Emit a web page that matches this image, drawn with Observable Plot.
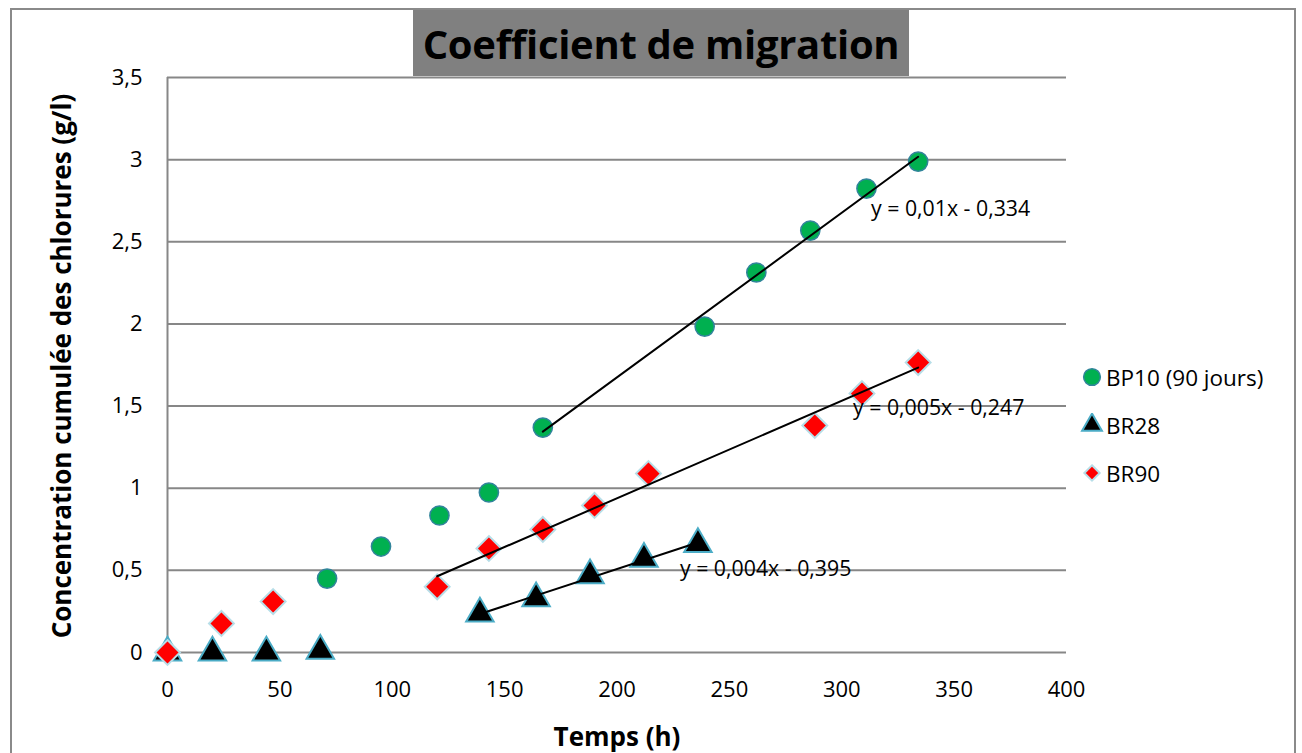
<!DOCTYPE html>
<html>
<head>
<meta charset="utf-8">
<script src="https://cdn.jsdelivr.net/npm/d3@7"></script>
<script src="https://cdn.jsdelivr.net/npm/@observablehq/plot@0.6"></script>
<style>
  html, body { margin: 0; padding: 0; background: #fff; overflow: hidden; }
  #wrap { position: relative; width: 1302px; height: 753px; font-family: "Open Sans", sans-serif; }
  #frame { position: absolute; left: 10px; top: 8px; width: 1286px; height: 800px; border: 2px solid #8a8a8a; box-sizing: border-box; }
  #title { position: absolute; left: 413px; top: 10px; width: 496px; height: 66px; background: #808080; color: #000;
           font-weight: 700; font-size: 40px; display: flex; align-items: center; justify-content: center; letter-spacing: -0.3px; }
  #ylabel { position: absolute; left: 61px; top: 366px; transform: translate(-50%, -50%) rotate(-90deg); white-space: nowrap;
            font-weight: 700; font-size: 26px; }
  #xlabel { position: absolute; left: 617px; top: 736px; transform: translate(-50%, -50%); white-space: nowrap;
            font-weight: 700; font-size: 26px; }
  #legend { position: absolute; left: 1080px; top: 353px; font-size: 22.5px; }
  .item { display: flex; align-items: center; height: 48px; }
  .item svg { width: 24px; height: 24px; margin-right: 2px; }
  #chart { position: absolute; left: 0; top: 0; }
</style>
</head>
<body>
<div id="wrap">
  <div id="frame"></div>
  <div id="chart"></div>
  <div id="title">Coefficient de migration</div>
  <div id="ylabel">Concentration cumulée des chlorures (g/l)</div>
  <div id="xlabel">Temps (h)</div>
  <div id="legend"></div>
</div>
<script>
// ---- Data ----
const xTicks = [0, 50, 100, 150, 200, 250, 300, 350, 400];
const yTicks = [0, 0.5, 1, 1.5, 2, 2.5, 3, 3.5];

const seriesNames = ["BP10 (90 jours)", "BR28", "BR90"];

const bp10X = [71, 95, 121, 143, 167, 239, 262, 286, 311, 334];
const bp10Y = [0.45, 0.645, 0.834, 0.974, 1.369, 1.984, 2.313, 2.568, 2.824, 2.988];

const br28X = [0, 20, 44, 68, 139, 164, 188, 212, 236];
const br28Y = [0, 0, 0, 0.01, 0.237, 0.33, 0.47, 0.57, 0.66];

const br90X = [0, 24, 47, 120, 143, 167, 190, 214, 288, 309, 334];
const br90Y = [0, 0.177, 0.31, 0.40, 0.633, 0.749, 0.895, 1.089, 1.382, 1.576, 1.765];

// trendline start (first x included in each regression)
const trendFrom = [167, 139, 120];

// equation labels (anchor in data units)
const eqText = ["y = 0,01x - 0,334", "y = 0,004x - 0,395", "y = 0,005x - 0,247"];
const eqX = [313, 228, 305];
const eqY = [2.70, 0.51, 1.485];

// ---- Build tables ----
const mk = (xs, ys) => xs.map((x, i) => ({x, y: ys[i]}));
const bp10 = mk(bp10X, bp10Y);
const br28 = mk(br28X, br28Y);
const br90 = mk(br90X, br90Y);
const eqs = eqText.map((t, i) => ({text: t, x: eqX[i], y: eqY[i]}));

const frFmt = d => String(d).replace(".", ",");

const sty = {
  circle: {symbol: "circle", r: 9.6, fill: "#00B050", stroke: "#31849B", strokeWidth: 1.5},
  triangle: {symbol: "triangle", r: 10.2, fill: "#000000", stroke: "#4BACC6", strokeWidth: 2},
  diamond: {symbol: "diamond2", r: 11.2, fill: "#FF0000", stroke: "#B7DEE8", strokeWidth: 2}
};

const chart = Plot.plot({
  width: 1302,
  height: 753,
  marginLeft: 167,
  marginRight: 236,
  marginTop: 77,
  marginBottom: 101,
  x: {domain: [0, 400]},
  y: {domain: [0, 3.5]},
  style: {fontFamily: "Open Sans, sans-serif", fontSize: "22px", color: "#000", background: "transparent", overflow: "visible"},
  marks: [
    Plot.gridY(yTicks, {stroke: "#878787", strokeOpacity: 1, strokeWidth: 2}),
    Plot.ruleX([0], {stroke: "#878787", strokeWidth: 2}),
    Plot.axisY({ticks: yTicks, tickSize: 0, tickPadding: 25, tickFormat: frFmt, label: null, fontSize: 22}),
    Plot.axisX({ticks: xTicks, tickSize: 0, tickPadding: 29, tickFormat: d => String(d), label: null, fontSize: 22}),
    Plot.dot(bp10, {x: "x", y: "y", ...sty.circle}),
    Plot.dot(br28, {x: "x", y: "y", ...sty.triangle}),
    Plot.dot(br90, {x: "x", y: "y", ...sty.diamond}),
    Plot.linearRegressionY(bp10.filter(d => d.x >= trendFrom[0]), {x: "x", y: "y", stroke: "#000", strokeWidth: 2, ci: 0}),
    Plot.linearRegressionY(br28.filter(d => d.x >= trendFrom[1]), {x: "x", y: "y", stroke: "#000", strokeWidth: 2, ci: 0}),
    Plot.linearRegressionY(br90.filter(d => d.x >= trendFrom[2]), {x: "x", y: "y", stroke: "#000", strokeWidth: 2, ci: 0}),
    Plot.text(eqs, {x: "x", y: "y", text: "text", textAnchor: "start", fontSize: 21.3, fill: "#000"})
  ]
});
document.getElementById("chart").appendChild(chart);

// ---- Legend ----
const legendSyms = [
  {name: seriesNames[0], sym: d3.symbolCircle, size: 220, fill: "#00B050", stroke: "#31849B", sw: 1.5},
  {name: seriesNames[1], sym: d3.symbolTriangle, size: 170, fill: "#000000", stroke: "#4BACC6", sw: 2},
  {name: seriesNames[2], sym: d3.symbolDiamond2, size: 150, fill: "#FF0000", stroke: "#B7DEE8", sw: 2}
];
const legend = d3.select("#legend");
legendSyms.forEach(s => {
  const row = legend.append("div").attr("class", "item");
  const svg = row.append("svg").attr("viewBox", "-12 -12 24 24");
  svg.append("path").attr("d", d3.symbol(s.sym, s.size)()).attr("fill", s.fill).attr("stroke", s.stroke).attr("stroke-width", s.sw);
  row.append("span").text(s.name);
});
</script>
</body>
</html>
